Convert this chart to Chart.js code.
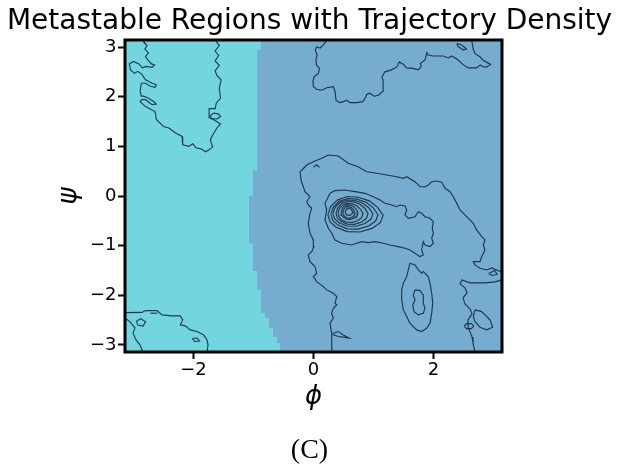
<!DOCTYPE html>
<html>
<head>
<meta charset="utf-8">
<script src="https://cdn.jsdelivr.net/npm/chart.js@4.4.1/dist/chart.umd.min.js"></script>
<style>
  html, body { margin: 0; padding: 0; background: #fff; }
  canvas { display: block; }
</style>
</head>
<body>
<canvas id="chartRegions" width="619" height="466"></canvas>
<script>
const xTicks = [-2, 0, 2];
const xTickLabels = ["\u22122", "0", "2"];
const yTicks = [-3, -2, -1, 0, 1, 2, 3];
const yTickLabels = ["\u22123", "\u22122", "\u22121", "0", "1", "2", "3"];

// left basin (cyan); the rest of the plane is the right basin
const regionLeft = [
  [-3.1416, 3.1416], [-0.875, 3.1416], [-0.875, 2.94], [-0.94, 2.94], [-0.94, 0.52],
  [-1.01, 0.52], [-1.01, 0.0], [-1.075, 0.0], [-1.075, -0.95], [-1.01, -0.95],
  [-1.01, -1.51], [-0.94, -1.51], [-0.94, -1.89], [-0.875, -1.89], [-0.875, -2.35],
  [-0.81, -2.35], [-0.81, -2.45], [-0.74, -2.45], [-0.74, -2.66], [-0.675, -2.66],
  [-0.675, -2.84], [-0.61, -2.84], [-0.61, -2.96], [-0.56, -2.96], [-0.56, -3.1416],
  [-3.1416, -3.1416]
];

// density contours, (phi, psi) pairs
const contourUpperLeft = [
  [-2.84, 3.1416], [-2.83, 3.11], [-2.775, 3.03], [-2.81, 2.96], [-2.75, 2.88], [-2.80, 2.81],
  [-2.76, 2.74], [-2.70, 2.66], [-2.65, 2.64], [-2.69, 2.59], [-2.79, 2.61], [-2.85, 2.58],
  [-2.91, 2.66], [-3.00, 2.71], [-3.07, 2.66], [-3.05, 2.54], [-2.98, 2.47], [-2.93, 2.51],
  [-2.86, 2.45], [-2.80, 2.34], [-2.75, 2.31], [-2.69, 2.27], [-2.62, 2.24], [-2.64, 2.19],
  [-2.72, 2.21], [-2.80, 2.27], [-2.87, 2.27], [-2.89, 2.11], [-2.87, 2.01], [-2.83, 2.01],
  [-2.75, 1.97], [-2.66, 1.90], [-2.62, 1.85], [-2.69, 1.84], [-2.80, 1.94], [-2.86, 1.94],
  [-2.89, 1.90], [-2.80, 1.80], [-2.64, 1.70], [-2.62, 1.54], [-2.50, 1.40], [-2.41, 1.37],
  [-2.30, 1.27], [-2.19, 1.20], [-2.18, 1.03], [-2.08, 1.00], [-2.01, 1.05], [-1.96, 0.97],
  [-1.875, 0.95], [-1.80, 0.89], [-1.74, 0.93], [-1.68, 0.99], [-1.72, 1.13], [-1.68, 1.23],
  [-1.61, 1.37], [-1.55, 1.45], [-1.64, 1.52], [-1.74, 1.58], [-1.74, 1.76], [-1.64, 1.76],
  [-1.62, 1.87], [-1.55, 1.97], [-1.57, 2.17], [-1.54, 2.34], [-1.61, 2.43], [-1.64, 2.52],
  [-1.57, 2.63], [-1.64, 2.72], [-1.58, 2.83], [-1.64, 2.92], [-1.57, 3.03], [-1.64, 3.1416]
];
const loopUpperLeft = [[-1.72, 1.62], [-1.66, 1.67], [-1.58, 1.65], [-1.55, 1.60], [-1.61, 1.55], [-1.70, 1.56]];

const contourUpperRight = [
  [0.22, 3.1416], [0.21, 3.12], [0.16, 3.04], [0.11, 2.98], [0.05, 3.00], [0.03, 2.94], [0.06, 2.84],
  [0.04, 2.74], [0.05, 2.64], [0.10, 2.57], [0.08, 2.47], [0.01, 2.40], [-0.01, 2.30], [0.00, 2.20],
  [0.05, 2.15], [0.14, 2.13], [0.22, 2.18], [0.33, 2.20], [0.36, 2.10], [0.375, 1.93], [0.43, 1.88],
  [0.50, 1.90], [0.55, 1.93], [0.61, 1.88], [0.72, 1.88], [0.82, 1.90], [0.86, 1.97], [0.89, 2.05],
  [0.94, 2.07], [1.01, 2.01], [1.08, 2.03], [1.16, 2.11], [1.16, 2.33], [1.14, 2.40], [1.19, 2.50],
  [1.30, 2.54], [1.39, 2.60], [1.43, 2.70], [1.50, 2.65], [1.55, 2.58], [1.66, 2.57], [1.75, 2.54],
  [1.80, 2.62], [1.78, 2.67], [1.86, 2.74], [1.89, 2.89], [1.91, 2.84], [2.00, 2.82], [2.16, 2.82],
  [2.25, 2.78], [2.30, 2.82], [2.39, 2.76], [2.50, 2.64], [2.58, 2.58], [2.72, 2.58], [2.78, 2.64],
  [2.83, 2.60], [2.89, 2.60], [2.95, 2.65], [2.82, 2.74], [2.78, 2.80], [2.69, 2.87], [2.66, 2.97],
  [2.64, 3.11], [2.64, 3.1416]
];
const loopUpperRight = [[2.39, 3.07], [2.47, 3.04], [2.55, 2.96], [2.50, 2.94], [2.41, 3.01]];

const contourOuter = [
  [0.303, -3.1416], [0.303, -2.763], [0.275, -2.561], [0.33, -2.461], [0.303, -2.36], [0.33, -2.26],
  [0.387, -2.193], [0.358, -2.159], [0.387, -2.026], [0.33, -1.958], [0.22, -1.891], [0.163, -1.825],
  [0.053, -1.724], [-0.003, -1.624], [0.053, -1.555], [0.025, -1.423], [-0.058, -1.322], [-0.087, -1.187],
  [-0.03, -1.121], [0.008, -1.02], [-0.003, -0.885], [-0.058, -0.751], [-0.087, -0.549], [-0.058, -0.348],
  [-0.03, -0.247], [-0.087, -0.181], [-0.113, -0.115], [-0.058, -0.014], [-0.142, 0.087], [-0.208, 0.322],
  [-0.225, 0.483], [-0.113, 0.624], [-0.003, 0.69], [0.137, 0.759], [0.247, 0.825], [0.413, 0.805],
  [0.58, 0.658], [0.742, 0.59], [0.887, 0.489], [1.053, 0.457], [1.22, 0.423], [1.387, 0.388],
  [1.497, 0.356], [1.553, 0.388], [1.692, 0.288], [1.775, 0.187], [1.858, 0.187], [1.913, 0.221],
  [1.97, 0.288], [2.053, 0.302], [2.137, 0.276], [2.192, 0.155], [2.275, 0.087], [2.33, -0.014],
  [2.387, -0.147], [2.442, -0.282], [2.553, -0.417], [2.663, -0.549], [2.72, -0.684], [2.803, -0.819],
  [2.858, -0.885], [2.83, -0.986], [2.858, -1.087], [2.803, -1.221], [2.775, -1.322], [2.663, -1.322],
  [2.692, -1.388], [2.775, -1.455], [2.887, -1.489], [2.97, -1.449], [3.053, -1.489], [3.1416, -1.529]
];
const contourRightLower = [
  [3.1416, -1.69], [3.025, -1.73], [2.858, -1.75], [2.608, -1.75], [2.475, -1.69], [2.442, -1.771],
  [2.525, -1.851], [2.558, -1.952], [2.492, -2.052], [2.525, -2.173], [2.608, -2.274], [2.642, -2.374],
  [2.575, -2.495], [2.575, -2.636], [2.642, -2.837], [2.658, -2.958], [2.692, -3.1416]
];
const loopRightLong = [[2.692, -2.294], [2.803, -2.328], [2.942, -2.495], [2.987, -2.642], [2.887, -2.696], [2.775, -2.642], [2.692, -2.529], [2.663, -2.429]];
const loopRightSmall = [[2.51, -2.62], [2.55, -2.57], [2.63, -2.57], [2.67, -2.62], [2.63, -2.67], [2.55, -2.67]];
const loopRightEdge = [[2.92, -1.56], [3.02, -1.50], [3.06, -1.58], [2.97, -1.60]];

// peak near (0.6, -0.35): outer ring with tail, then nested rings
const ringPeak1 = [
  [0.275, 0.054], [0.358, 0.107], [0.525, 0.121], [0.692, 0.087], [0.858, 0.054], [0.997, -0.014],
  [1.108, -0.08], [1.192, -0.147], [1.303, -0.181], [1.387, -0.215], [1.442, -0.181], [1.525, -0.201],
  [1.553, -0.282], [1.525, -0.382], [1.58, -0.449], [1.692, -0.417], [1.747, -0.316], [1.803, -0.348],
  [1.858, -0.417], [1.942, -0.449], [1.997, -0.517], [1.98, -0.65], [1.997, -0.751], [1.97, -0.851],
  [1.997, -0.952], [1.942, -1.02], [1.858, -0.986], [1.83, -0.92], [1.803, -1.087], [1.83, -1.187],
  [1.775, -1.221], [1.692, -1.153], [1.608, -1.087], [1.525, -1.052], [1.413, -1.02], [1.275, -0.986],
  [1.163, -0.952], [1.025, -0.92], [0.913, -0.94], [0.803, -0.92], [0.637, -0.986], [0.47, -0.952],
  [0.358, -0.885], [0.303, -0.751], [0.247, -0.65], [0.192, -0.483], [0.22, -0.282], [0.192, -0.147]
];
const ringPeak2 = [[0.24, -0.375], [0.286, -0.214], [0.396, -0.083], [0.562, -0.01], [0.746, -0.025], [0.93, -0.098], [1.068, -0.229], [1.16, -0.39], [1.114, -0.536], [0.976, -0.652], [0.774, -0.725], [0.562, -0.718], [0.378, -0.63], [0.277, -0.521]];
const ringPeak3 = [[0.29, -0.365], [0.329, -0.226], [0.423, -0.113], [0.565, -0.05], [0.722, -0.063], [0.879, -0.126], [0.997, -0.239], [1.075, -0.378], [1.036, -0.504], [0.918, -0.604], [0.745, -0.667], [0.565, -0.661], [0.408, -0.586], [0.321, -0.491]];
const ringPeak4 = [[0.325, -0.35], [0.358, -0.231], [0.438, -0.134], [0.558, -0.08], [0.691, -0.091], [0.824, -0.145], [0.924, -0.242], [0.99, -0.361], [0.957, -0.469], [0.857, -0.555], [0.711, -0.609], [0.558, -0.604], [0.425, -0.539], [0.352, -0.458]];
const ringPeak5 = [[0.375, -0.345], [0.402, -0.242], [0.466, -0.157], [0.562, -0.11], [0.669, -0.119], [0.776, -0.166], [0.857, -0.251], [0.91, -0.354], [0.883, -0.448], [0.803, -0.524], [0.685, -0.571], [0.562, -0.566], [0.455, -0.51], [0.396, -0.439]];
const ringPeak6 = [[0.41, -0.345], [0.431, -0.259], [0.481, -0.189], [0.555, -0.15], [0.638, -0.158], [0.721, -0.197], [0.784, -0.267], [0.825, -0.353], [0.804, -0.431], [0.742, -0.493], [0.651, -0.532], [0.555, -0.528], [0.472, -0.482], [0.427, -0.423]];
const ringPeak7 = [[0.46, -0.33], [0.474, -0.264], [0.508, -0.21], [0.558, -0.18], [0.614, -0.186], [0.67, -0.216], [0.712, -0.27], [0.74, -0.336], [0.726, -0.396], [0.684, -0.444], [0.622, -0.474], [0.558, -0.471], [0.502, -0.435], [0.471, -0.39]];
const ringPeak8 = [[0.49, -0.333], [0.50, -0.281], [0.524, -0.239], [0.56, -0.215], [0.60, -0.22], [0.64, -0.243], [0.67, -0.286], [0.69, -0.337], [0.68, -0.384], [0.65, -0.422], [0.606, -0.445], [0.56, -0.443], [0.52, -0.415], [0.498, -0.38]];
const ringPeak9 = [[0.525, -0.32], [0.56, -0.25], [0.62, -0.26], [0.66, -0.33], [0.61, -0.39], [0.55, -0.38]];

// second peak near (1.75, -2.1)
const ringLower1 = [
  [1.608, -1.354], [1.692, -1.388], [1.747, -1.489], [1.803, -1.555], [1.83, -1.523], [1.913, -1.624],
  [1.942, -1.757], [1.97, -1.958], [1.987, -2.159], [1.97, -2.36], [1.942, -2.561], [1.887, -2.662],
  [1.803, -2.73], [1.72, -2.696], [1.663, -2.63], [1.608, -2.561], [1.553, -2.429], [1.497, -2.294],
  [1.47, -2.093], [1.47, -1.891], [1.497, -1.757], [1.553, -1.624], [1.58, -1.489]
];
const ringLower2 = [[1.692, -1.891], [1.775, -1.905], [1.83, -1.992], [1.83, -2.159], [1.858, -2.26], [1.83, -2.36], [1.747, -2.394], [1.675, -2.328], [1.653, -2.193], [1.692, -2.093], [1.663, -1.992]];
const loopLowerMid = [[0.33, -2.763], [0.413, -2.73], [0.497, -2.797], [0.597, -2.863], [0.497, -2.843], [0.413, -2.83], [0.33, -2.797]];
const loopTopMid = [[0.0, 0.58], [0.05, 0.63], [0.10, 0.58]];

// bottom-left corner
const contourLowerLeft = [
  [-3.1416, -2.348], [-2.858, -2.344], [-2.803, -2.308], [-2.608, -2.308], [-2.525, -2.394], [-2.358, -2.414],
  [-2.22, -2.414], [-2.18, -2.495], [-2.22, -2.596], [-2.137, -2.616], [-2.053, -2.696], [-1.942, -2.73],
  [-1.83, -2.797], [-1.775, -2.897], [-1.758, -2.998], [-1.775, -3.1416]
];
const contourLowerLeft2 = [[-3.1416, -2.455], [-3.058, -2.535], [-2.975, -2.656], [-3.008, -2.757], [-2.958, -2.897], [-2.892, -2.998], [-2.842, -3.1416]];
const loopLowerLeft = [[-2.95, -2.52], [-2.88, -2.47], [-2.80, -2.53], [-2.84, -2.62], [-2.93, -2.60]];
const loopLowerLeft2 = [[-2.02, -2.87], [-1.94, -2.86], [-1.90, -2.92], [-1.98, -2.93]];
const dashLowerLeft = [[-2.72, -2.36], [-2.60, -2.36]];

const colorLeft = "#72d5e0";
const colorRight = "#75acd0";
const colorContour = "rgba(15, 28, 45, 0.82)";

Chart.defaults.font.family = "'DejaVu Sans', sans-serif";
Chart.defaults.color = "#000";

const openPaths = [contourUpperLeft, contourUpperRight, contourOuter, contourRightLower,
  contourLowerLeft, contourLowerLeft2, dashLowerLeft, loopTopMid];
const closedPaths = [loopUpperLeft, loopUpperRight, loopRightLong, loopRightSmall, loopRightEdge,
  ringPeak1, ringPeak2, ringPeak3, ringPeak4, ringPeak5, ringPeak6, ringPeak7, ringPeak8, ringPeak9,
  ringLower1, ringLower2, loopLowerMid, loopLowerLeft, loopLowerLeft2];

function toPoints(path) {
  return path.map((p) => ({ x: p[0], y: p[1] }));
}

function contourDataset(path, closed) {
  const pts = closed ? path.concat([path[0]]) : path;
  return {
    data: toPoints(pts),
    borderColor: colorContour,
    borderWidth: 1.15,
    pointRadius: 0,
    pointHoverRadius: 0,
    fill: false,
    tension: 0,
    order: 0,
  };
}

const datasets = [];
openPaths.forEach((p) => datasets.push(contourDataset(p, false)));
closedPaths.forEach((p) => datasets.push(contourDataset(p, true)));
datasets.push({
  data: toPoints(regionLeft),
  borderColor: "rgba(0,0,0,0)",
  borderWidth: 0,
  backgroundColor: colorLeft,
  pointRadius: 0,
  fill: "shape",
  tension: 0,
  order: 1,
});

const plotFrame = {
  id: "plotFrame",
  beforeDatasetsDraw(chart) {
    const { ctx, chartArea: a } = chart;
    ctx.save();
    ctx.fillStyle = colorRight;
    ctx.fillRect(a.left, a.top, a.right - a.left, a.bottom - a.top);
    ctx.restore();
  },
  afterDatasetsDraw(chart) {
    const { ctx, chartArea: a } = chart;
    ctx.save();
    ctx.strokeStyle = "#000";
    ctx.lineWidth = 3;
    ctx.strokeRect(a.left, a.top, a.right - a.left, a.bottom - a.top);
    ctx.restore();
  },
};

function tickLabel(values, labels) {
  return function (value) {
    const i = values.indexOf(value);
    return i >= 0 ? labels[i] : "";
  };
}

new Chart(document.getElementById("chartRegions"), {
  type: "line",
  data: { datasets: datasets },
  plugins: [plotFrame],
  options: {
    responsive: false,
    animation: false,
    events: [],
    layout: { padding: 0 },
    plugins: {
      legend: { display: false },
      tooltip: { enabled: false },
      title: {
        display: true,
        text: "Metastable Regions with Trajectory Density",
        color: "#000",
        font: { family: "'DejaVu Sans', sans-serif", size: 28, weight: "normal", lineHeight: 1.2 },
        padding: { top: 5, bottom: 1.4 },
      },
      subtitle: {
        display: true,
        position: "bottom",
        text: "(C)",
        color: "#000",
        font: { family: "'Liberation Serif', serif", size: 28, weight: "normal", lineHeight: 1 },
        padding: { top: 0, bottom: 1 },
      },
    },
    scales: {
      x: {
        type: "linear",
        min: -Math.PI,
        max: Math.PI,
        afterBuildTicks: (scale) => { scale.ticks = xTicks.map((v) => ({ value: v })); },
        afterFit: (scale) => { scale.height = 85; },
        ticks: {
          callback: tickLabel(xTicks, xTickLabels),
          font: { size: 18 },
          color: "#000",
          padding: 1,
          maxRotation: 0,
          autoSkip: false,
        },
        grid: { drawOnChartArea: false, drawTicks: true, tickLength: 7, tickColor: "#000", tickWidth: 2 },
        border: { display: false },
        title: {
          display: true,
          text: "\u03d5",
          color: "#000",
          font: { size: 26, style: "italic", lineHeight: 1.2 },
          padding: { top: 0, bottom: 24 },
        },
      },
      y: {
        type: "linear",
        position: "left",
        min: -Math.PI,
        max: Math.PI,
        afterBuildTicks: (scale) => { scale.ticks = yTicks.map((v) => ({ value: v })); },
        afterFit: (scale) => { scale.width = 125; },
        ticks: {
          callback: tickLabel(yTicks, yTickLabels),
          font: { size: 18 },
          color: "#000",
          padding: 1.5,
          autoSkip: false,
        },
        grid: { drawOnChartArea: false, drawTicks: true, tickLength: 7, tickColor: "#000", tickWidth: 2 },
        border: { display: false },
        title: {
          display: true,
          text: "\u03c8",
          color: "#000",
          font: { size: 26, style: "italic", lineHeight: 1.2 },
          padding: { top: 54, bottom: 0 },
        },
      },
      // empty right-hand axis that only reserves the white margin
      yMargin: {
        type: "linear",
        position: "right",
        min: -Math.PI,
        max: Math.PI,
        afterFit: (scale) => { scale.width = 117; },
        ticks: { display: false },
        grid: { display: false, drawTicks: false },
        border: { display: false },
      },
    },
  },
});
</script>
</body>
</html>
